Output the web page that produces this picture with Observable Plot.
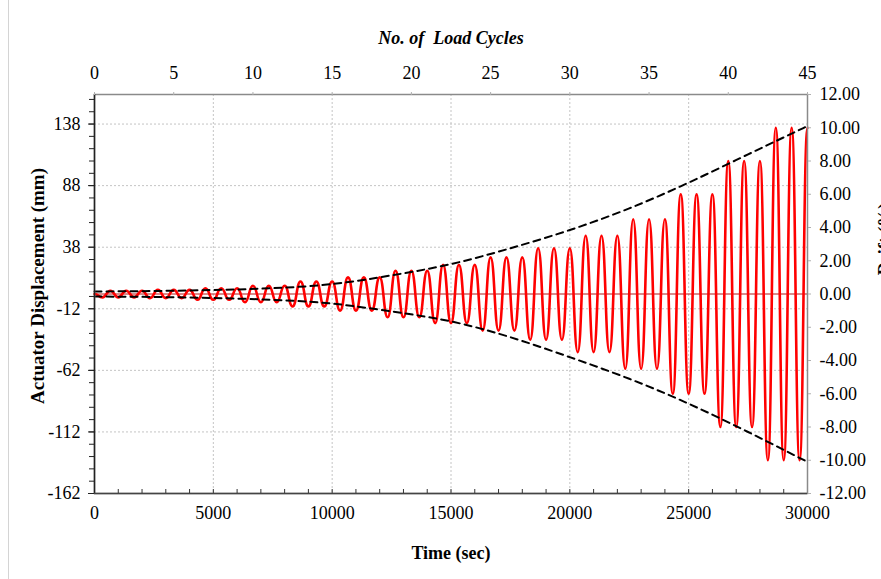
<!DOCTYPE html>
<html>
<head>
<meta charset="utf-8">
<script src="https://cdn.jsdelivr.net/npm/d3@7"></script>
<script src="https://cdn.jsdelivr.net/npm/@observablehq/plot@0.6"></script>
<style>
  html, body { margin: 0; padding: 0; background: #fff; }
  #chart { position: relative; width: 881px; height: 579px; overflow: hidden; background: #fff; }
  #chart .edge { position: absolute; left: 8px; top: 0; bottom: 0; border-left: 1px solid #d4d4d4; }
</style>
</head>
<body>
<div id="chart"></div>
<script>
// Cyclic loading protocol: drift amplitude (%) per level, three cycles each
const driftLevels = [0.2, 0.25, 0.35, 0.5, 0.75, 1.0, 1.4, 1.75, 2.2, 2.75, 3.5, 4.5, 6.0, 8.0, 10.0];
const cyclesPerLevel = 3;
const totalTime = 30000;   // sec
const totalCycles = 45;
const mmPerDrift = 13.5;   // actuator mm per 1 % drift

// Envelope (dashed) read at regular times
const envelopeTime  = [0, 2500, 5000, 7500, 10000, 12500, 15000, 17500, 20000, 22500, 25000, 27500, 30000];
const envelopeUpper = [0.15, 0.18, 0.24, 0.35, 0.6, 1.12, 1.8, 2.75, 3.85, 5.15, 6.7, 8.4, 10.1];
const envelopeLower = [-0.15, -0.18, -0.24, -0.35, -0.58, -1.05, -1.65, -2.6, -3.8, -5.1, -6.6, -8.3, -10.1];

// Axis ticks
const mmTicks = [-162, -112, -62, -12, 38, 88, 138];
const mmMinorTicks = d3.range(-162, 162, 10);
const driftTicks = [-12, -10, -8, -6, -4, -2, 0, 2, 4, 6, 8, 10, 12];
const timeTicks = [0, 5000, 10000, 15000, 20000, 25000, 30000];
const timeMinorTicks = d3.range(1000, 30000, 1000);
const cycleTicks = [0, 5, 10, 15, 20, 25, 30, 35, 40, 45];

const cycleDuration = totalTime / totalCycles;

// Peaks and troughs of the displacement history: trough at mid-cycle, peak at cycle end
const extremes = [{t: 0, v: 0}];
driftLevels.forEach((amp, i) => {
  for (let c = 1; c <= cyclesPerLevel; c++) {
    const k = i * cyclesPerLevel + c;
    extremes.push({t: (k - 0.5) * cycleDuration, v: -amp});
    extremes.push({t: k * cycleDuration, v: amp});
  }
});

const upper = envelopeTime.map((t, i) => ({t, v: envelopeUpper[i]}));
const lower = envelopeTime.map((t, i) => ({t, v: envelopeLower[i]}));

const gridStyle = {stroke: "#c4c4c4", strokeOpacity: 1, strokeDasharray: "2,2", strokeWidth: 1};
const tickFont = 18;

const chart = Plot.plot({
  width: 881,
  height: 579,
  marginLeft: 94,
  marginRight: 74,
  marginTop: 94,
  marginBottom: 86,
  x: {domain: [0, totalTime]},
  y: {domain: [-12, 12]},
  style: {
    fontFamily: "'Liberation Serif', 'Times New Roman', serif",
    fontSize: "18px",
    color: "#000",
    background: "transparent",
    overflow: "visible"
  },
  marks: [
    // grid
    Plot.gridX(timeTicks.slice(1, -1), gridStyle),
    Plot.gridY(mmTicks.map(m => m / mmPerDrift), gridStyle),
    // zero line
    Plot.ruleY([0], {stroke: "#b01818", strokeWidth: 1}),
    // displacement history
    Plot.line(extremes, {x: "t", y: "v", curve: "bump-x", stroke: "#ff0000", strokeWidth: 2.6}),
    // envelopes
    Plot.line(upper, {x: "t", y: "v", curve: "natural", stroke: "#000", strokeWidth: 2, strokeDasharray: "7,5"}),
    Plot.line(lower, {x: "t", y: "v", curve: "natural", stroke: "#000", strokeWidth: 2, strokeDasharray: "7,5"}),
    // frame
    Plot.frame({stroke: "#8a8a8a", strokeWidth: 1.5}),
    Plot.ruleX([0], {stroke: "#222", strokeWidth: 1.5}),
    Plot.ruleY([-12], {stroke: "#444", strokeWidth: 1.5}),
    // inward minor ticks on the time axis
    Plot.ruleX(timeMinorTicks, {insetTop: 395, stroke: "#333", strokeWidth: 1}),
    // left axis: actuator displacement
    Plot.axisY(mmMinorTicks.map(m => m / mmPerDrift), {anchor: "left", tickSize: 5, tickFormat: () => "", label: null, stroke: "#222"}),
    Plot.axisY(mmTicks.map(m => m / mmPerDrift), {
      anchor: "left", tickSize: 6, tickPadding: 8, label: null, stroke: "#222", fontSize: tickFont,
      tickFormat: d => String(Math.round(d * mmPerDrift))
    }),
    // right axis: drift
    Plot.axisY(driftTicks, {
      anchor: "right", tickSize: 3, tickPadding: 9, label: null, stroke: "#b0b0b0", fontSize: tickFont,
      tickFormat: d => d.toFixed(2)
    }),
    // bottom axis: time
    Plot.axisX(timeTicks, {anchor: "bottom", tickSize: 0, tickPadding: 13, label: null, fontSize: tickFont, tickFormat: d => String(d)}),
    // top axis: load cycles
    Plot.axisX(cycleTicks.map(c => c * cycleDuration), {
      anchor: "top", tickSize: 3, tickPadding: 13, label: null, stroke: "#b0b0b0", fontSize: tickFont,
      tickFormat: d => String(Math.round(d / cycleDuration))
    }),
    // titles
    Plot.text(["No. of  Load Cycles"], {frameAnchor: "top", dy: -56, lineAnchor: "middle", text: d => d, fontWeight: "bold", fontStyle: "italic", fontSize: 18}),
    Plot.text(["Time (sec)"], {frameAnchor: "bottom", dy: 60, lineAnchor: "middle", text: d => d, fontWeight: "bold", fontSize: 18}),
    Plot.text(["Actuator Displacement (mm)"], {frameAnchor: "left", dx: -57, dy: -8, rotate: -90, textAnchor: "middle", lineAnchor: "middle", text: d => d, fontWeight: "bold", fontSize: 19}),
    Plot.text(["Drift (%)"], {frameAnchor: "right", dx: 78, dy: -55, rotate: -90, textAnchor: "middle", lineAnchor: "middle", text: d => d, fontWeight: "bold", fontSize: 18})
  ]
});

const host = document.getElementById("chart");
host.appendChild(chart);
const edge = document.createElement("div");
edge.className = "edge";
host.appendChild(edge);
</script>
</body>
</html>
